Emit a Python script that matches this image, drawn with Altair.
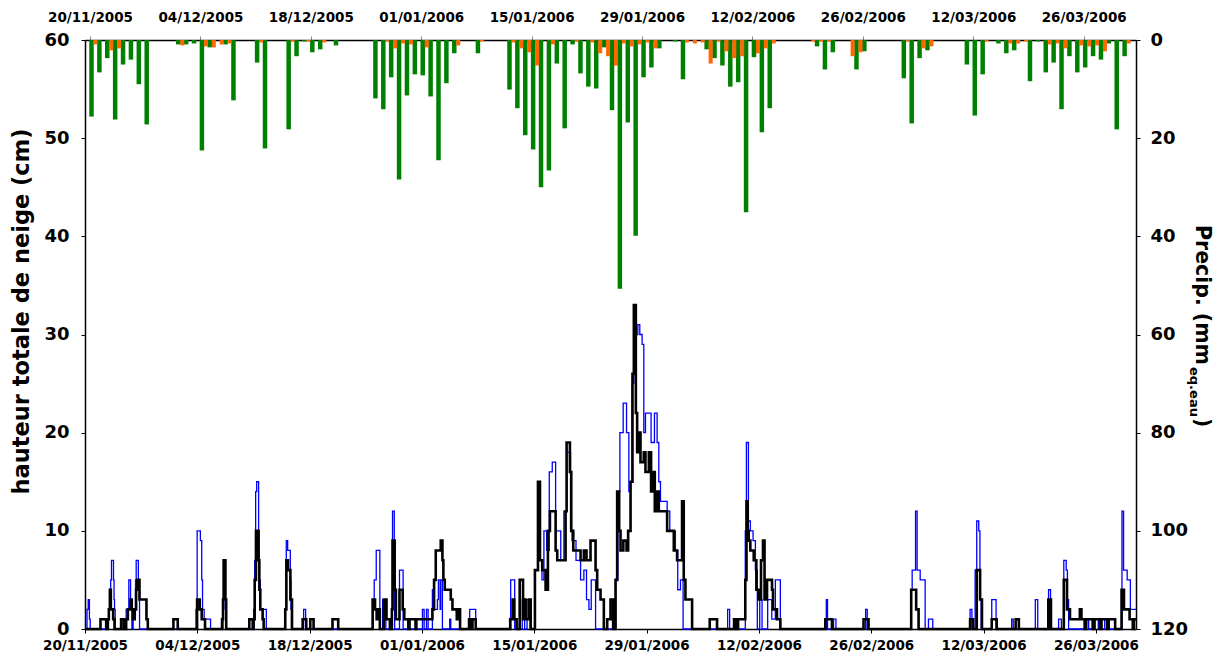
import altair as alt
import pandas as pd

START = pd.Timestamp("2005-11-20")
FONT = "DejaVu Sans"

# ---- daily precipitation (mm eq. water), right axis (reversed) ----
green_day = [0,1,2,3,4,5,6,7,11,12,13,14,15,17,18,21,22,25,26,27,28,29,31,
             36,37,38,39,40,41,42,43,44,45,46,49,
             53,54,55,56,57,58,59,60,61,62,63,64,65,66,67,68,69,70,71,72,
             74,75,78,79,80,81,82,83,84,85,86,92,93,94,97,98,
             103,104,105,106,111,112,113,115,116,117,
             119,120,121,122,123,124,125,126,127,128,129,130,131]
green_mm = [15.6,6.6,3.7,16.2,5.0,4.0,9.0,17.2,0.9,0.9,0.7,22.5,1.5,0.9,12.3,4.6,22.1,18.2,3.3,0.3,2.5,1.9,1.1,
            11.9,14.1,7.6,28.4,11.3,7.0,7.2,11.5,24.5,8.8,2.7,2.7,
            10.1,13.9,19.4,22.3,30.0,26.6,4.8,18.0,0.9,6.8,9.5,9.9,1.5,14.3,50.7,16.8,39.9,7.6,5.6,1.7,
            0.3,8.0,1.9,3.7,5.2,9.5,8.6,35.1,3.5,18.8,13.9,1.3,6.0,2.5,6.0,2.3,
            7.8,17.0,3.7,2.1,5.0,15.4,7.0,0.7,2.7,2.1,
            8.4,0.3,6.6,4.6,14.1,3.3,6.6,5.6,3.3,4.0,0.7,18.2,3.3]

orange_day = [0,2,3,11,14,15,16,17,21,25,27,29,37,38,39,40,42,46,49,53,54,55,56,58,
              61,63,64,65,66,67,68,69,70,71,75,76,77,78,79,80,81,82,84,85,86,91,92,93,96,97,
              103,105,106,113,116,117,118,121,122,123,125,126,127,128,131]
orange_mm = [0.9,2.1,1.7,1.1,1.3,1.5,0.9,0.7,0.5,0.3,0.3,0.5,0.3,1.7,0.7,0.9,1.5,1.1,0.3,0.5,1.7,2.5,5.2,0.9,
             0.3,0.5,2.7,3.3,5.2,0.7,1.3,0.9,0.5,1.7,0.5,0.7,0.5,4.8,0.3,2.3,3.7,3.3,2.7,1.7,0.7,0.3,0.3,0.3,3.3,2.5,
             0.3,1.7,1.3,0.3,0.7,0.7,0.3,0.9,0.7,1.7,1.1,1.3,1.1,2.3,0.7]

# ---- snow height (cm), step series: (day since 20/11/2005, value) ----
black_steps = [(0,0),(1.93,1),(2.64,0),(2.85,1),(2.97,2),(3.1,4),(3.22,2),(3.51,1),(3.68,0),
    (4.5,1),(4.84,0),(5.13,1),(5.34,2),(5.67,3),(5.83,2),(5.96,1),(6.2,2),(6.37,4),(6.5,5),(6.79,3),(7.66,1),(7.83,0),
    (11.02,1),(11.56,0),(13.97,3),(14.3,2),(14.55,1),(14.96,0),
    (17.08,1),(17.2,3),(17.28,7),(17.5,3),(17.6,0),(20.48,1),(20.9,0),
    (21.02,1),(21.15,5),(21.31,10),(21.6,7),(21.73,4),(21.85,2),(22.14,1),(22.27,0),
    (24.96,2),(25.1,7),(25.3,6),(25.6,3),(25.8,0),(27.13,1),(27.58,0),(28.08,1),(28.49,0),(30.85,1),(31.56,0),
    (35.85,3),(36.15,2),(36.35,1),(36.5,2),(36.75,0),(37.25,3),(37.58,1),(38.0,0),
    (38.25,2),(38.33,9),(38.6,4),(38.75,1),(39.2,4),(39.6,2),(39.8,1),(40.3,0),(40.45,1),(41.2,0),(41.3,1),
    (43.3,2),(43.51,5),(43.72,8),(44.34,9),(44.55,7),(44.67,5),(44.84,4),(45.59,3),(45.8,2),(46.34,1),(46.5,2),(46.75,0),
    (47.87,1),(48.1,0),(48.3,1),(48.7,0),
    (53.0,1),(53.3,3),(53.5,1),(53.8,0),(54.18,5),(54.6,1),(54.72,3),(54.92,1),(55.34,3),(55.55,0),
    (56.08,6),(56.46,15),(56.71,7),(56.99,6),(57.41,4),(57.7,10),(57.95,12),(58.66,8),(58.86,7),(59.9,12),
    (60.03,19),(60.44,16),(60.61,10),(60.86,8),(61.77,7),(62.18,8),(62.51,7),(63.01,9),(63.64,6),(63.84,4),
    (64.26,3),(64.67,0),(65.09,1),(65.5,3),(65.83,0),
    (66.13,5),(66.33,14),(66.58,10),(66.75,8),(67.1,9),(67.5,8),(67.7,10),(68.0,15),(68.24,26),(68.41,33),
    (68.66,22),(68.82,18),(69.03,20),(69.24,17),(69.65,18),(69.86,16),(70.28,18),(70.56,14),(70.81,16),
    (71.02,12),(71.31,14),(71.52,12),(72.56,10),(73.39,8),(73.8,7),(74.42,13),(74.63,5),(74.84,3),(75.67,0),
    (77.87,1),(78.78,0),(80.9,1),(81.2,0),(81.4,1),
    (82.3,5),(82.45,13),(82.6,10),(82.73,9),(82.93,8),(83.35,7),(83.68,4),(83.97,3),(84.26,7),(84.51,9),
    (84.7,3),(85.01,5),(85.63,4),(85.76,2),(86.25,1),(86.67,0),
    (92.27,1),(93.1,0),(97.04,1),(97.66,0),(102.98,4),(103.6,2),(103.9,0),
    (110.32,1),(110.7,0),(111.15,6),(111.57,3),(111.8,0),(113.02,1),(113.64,0),(116.0,1),(116.4,0),
    (120.07,3),(120.4,0),(122.0,5),(122.4,2),(122.77,1),(124.0,2),(124.2,1),(124.6,0),(124.8,1),(125.6,0),
    (125.8,1),(126.5,0),(126.7,1),(127.4,0),(127.6,1),(128.4,0),
    (129.2,4),(129.5,2),(130.2,1),(130.6,0),(130.75,1),(131,1)]

blue_steps = [(0,0),(0.25,2),(0.4,3),(0.55,1),(0.65,0),
    (2.85,1),(3.0,2),(3.1,3),(3.2,5),(3.3,7),(3.55,5),(3.62,3),(3.68,2),(3.76,0),
    (4.5,1),(4.84,0),(5.13,2),(5.46,5),(5.68,2),(5.85,0),(6.0,2),(6.3,5),(6.38,7),(6.65,4),(6.8,0),
    (13.84,2),(13.98,10),(14.38,9),(14.55,5),(14.65,2),(14.85,1),(15.65,0),
    (17.2,2),(17.28,7),(17.5,2),(17.6,0),
    (21.02,2),(21.15,7),(21.27,14),(21.4,15),(21.64,10),(21.73,5),(21.85,2),(22.6,0),
    (24.96,2),(25.09,9),(25.26,8),(25.59,5),(25.67,2),(25.75,0),(27.25,2),(27.5,0),
    (35.9,2),(36.05,5),(36.3,8),(36.75,0),(37.1,3),(37.5,0),
    (38.25,2),(38.33,12),(38.55,2),(38.6,0),(39.2,6),(39.65,0),
    (42.06,2),(42.27,0),(42.56,2),(42.77,0),
    (43.3,4),(43.51,2),(43.93,3),(44.05,5),(44.26,2),(44.34,5),(44.55,0),(45.46,1),(45.59,0),
    (47.95,2),(48.7,0),
    (53.06,5),(53.56,0),(54.5,3),(54.8,0),(55.1,3),(55.5,0),
    (56.08,6),(56.46,15),(56.71,7),(56.96,5),(57.2,10),(57.54,8),(57.87,16),(58.24,17),(58.66,10),(59.3,7),
    (59.69,12),(60.03,18),(60.52,10),(60.7,9),(61.2,7),(61.77,5),(62.18,6),(62.51,3),(62.81,2),(63.1,5),(63.64,0),
    (66.13,5),(66.42,14),(66.67,20),(67.08,23),(67.5,20),(67.79,14),(67.99,15),(68.2,25),(68.41,28),(68.62,30),
    (68.91,31),(69.15,30),(69.44,29),(69.65,20),(69.86,22),(70.56,19),(70.98,22),(71.31,19),(71.52,15),
    (71.73,13),(72.56,12),(72.89,10),(73.59,8),(73.88,4),(74.22,5),(74.55,0),
    (80.1,2),(80.35,0),
    (82.3,10),(82.44,19),(82.69,11),(82.93,10),(83.27,9),(83.56,6),(83.8,0),(84.1,3),(84.39,0),(85.09,3),
    (85.6,1),(86.05,5),(86.67,0),
    (92.4,3),(92.55,0),(93.3,1),(93.6,0),(97.3,2),(97.5,0),
    (102.98,4),(103.1,6),(103.52,12),(103.72,6),(104.1,5),(104.72,0),(105.13,1),(105.67,0),
    (110.32,2),(110.55,0),(110.95,6),(111.15,11),(111.4,10),(111.55,3),(111.7,0),(113.02,3),(113.56,0),
    (115.5,1),(115.7,0),(118.45,3),(118.75,0),(120.1,4),(120.35,0),(121.35,1),(121.7,0),
    (122.0,7),(122.3,6),(122.45,3),(122.6,0),(124.7,1),(125.1,0),(125.9,1),(126.3,0),(127.1,1),(127.5,0),
    (129.25,12),(129.45,6),(129.9,5),(130.3,2),(131,2)]

tick_dates = ["20/11/2005","04/12/2005","18/12/2005","01/01/2006","15/01/2006","29/01/2006",
              "12/02/2006","26/02/2006","12/03/2006","26/03/2006"]
left_ticks = [0, 10, 20, 30, 40, 50, 60]
right_ticks = [0, 20, 40, 60, 80, 100, 120]


def to_dt(days):
    return START + pd.to_timedelta(pd.Series(days, dtype=float), unit="D")


def dt_obj(s):
    d, m, y = (int(p) for p in s.split("/"))
    return alt.DateTime(year=y, month=m, date=d)


tick_vals = [dt_obj(s) for s in tick_dates]

green_df = pd.DataFrame({"date": to_dt(green_day), "mm": green_mm})
orange_df = pd.DataFrame({"date": to_dt(orange_day), "mm": orange_mm})
line_df = pd.concat([
    pd.DataFrame({"date": to_dt([t for t, _ in black_steps]), "cm": [v for _, v in black_steps], "s": "black"}),
    pd.DataFrame({"date": to_dt([t for t, _ in blue_steps]), "cm": [v for _, v in blue_steps], "s": "blue"}),
])

label_style = dict(labelFont=FONT, labelFontWeight="bold", labelColor="black",
                   domainColor="black", grid=False)

x_top = alt.X("date:T",
              scale=alt.Scale(domain=[alt.DateTime(year=2005, month=11, date=20),
                                      alt.DateTime(year=2006, month=4, date=1)]),
              axis=alt.Axis(orient="top", values=tick_vals, format="%d/%m/%Y", title=None,
                            labelFontSize=13.5, labelFlush=False, labelOverlap=False,
                            tickSize=4, tickColor="#888888", labelPadding=12, domainWidth=1.5,
                            **label_style))
y_right = alt.Y("mm:Q", scale=alt.Scale(domain=[0, 120], reverse=True),
                axis=alt.Axis(orient="right", values=right_ticks, title=None, labelFontSize=18,
                              tickSize=4, tickColor="black", labelPadding=10, domainWidth=1.5,
                              **label_style))

green = alt.Chart(green_df).mark_bar(width=4.5, xOffset=1.5, color="#008000").encode(x=x_top, y=y_right)
orange = alt.Chart(orange_df).mark_bar(width=4, xOffset=5.5, color="#ff6600").encode(x="date:T", y="mm:Q")

title_df = pd.DataFrame({"t": ["Precip. (mm", "eq.eau", ")"]})
t1 = alt.Chart(title_df.iloc[[0]]).mark_text(angle=90, align="left", baseline="middle", font=FONT,
                                             fontWeight="bold", fontSize=20.5, color="black").encode(
    text="t:N", x=alt.value(1117), y=alt.value(185))
t2 = alt.Chart(title_df.iloc[[1]]).mark_text(angle=90, align="left", baseline="middle", font=FONT,
                                             fontWeight="bold", fontSize=13, color="black").encode(
    text="t:N", x=alt.value(1109), y=alt.value(327))
t3 = alt.Chart(title_df.iloc[[2]]).mark_text(angle=90, align="left", baseline="middle", font=FONT,
                                             fontWeight="bold", fontSize=20.5, color="black").encode(
    text="t:N", x=alt.value(1117), y=alt.value(378))

bars = alt.layer(green, orange, t1, t2, t3)

x_bot = alt.X("date:T",
              scale=alt.Scale(domain=[alt.DateTime(year=2005, month=11, date=20),
                                      alt.DateTime(year=2006, month=3, date=31)]),
              axis=alt.Axis(orient="bottom", values=tick_vals, format="%d/%m/%Y", title=None,
                            labelFontSize=13.5, labelFlush=False, labelOverlap=False,
                            tickSize=4, tickColor="black", labelPadding=5, domainWidth=1.5,
                            **label_style))
y_left = alt.Y("cm:Q", scale=alt.Scale(domain=[0, 60]),
               axis=alt.Axis(orient="left", values=left_ticks, title="hauteur totale de neige (cm)",
                             titleFont=FONT, titleFontWeight="bold", titleFontSize=22.5, titleColor="black",
                             titlePadding=10, titleY=271, labelFontSize=18, tickSize=4, tickColor="black",
                             labelPadding=12, domainWidth=1.5, **label_style))

blue_line = alt.Chart(line_df).transform_filter(alt.datum.s == "blue").mark_line(
    interpolate="step-after", color="#0000ff", strokeWidth=1.3).encode(x=x_bot, y=y_left)
black_line = alt.Chart(line_df).transform_filter(alt.datum.s == "black").mark_line(
    interpolate="step-after", color="black", strokeWidth=2.6).encode(x="date:T", y="cm:Q")

lines = alt.layer(blue_line, black_line)

chart = alt.layer(bars, lines).resolve_scale(x="independent", y="independent").properties(
    width=1051, height=589,
    autosize=alt.AutoSizeParams(type="none"),
    padding={"left": 77, "top": 32, "right": 80, "bottom": 30},
).configure_view(stroke=None).configure(background="white")

chart.save("out.html", embed_options={"renderer": "svg", "actions": False})
